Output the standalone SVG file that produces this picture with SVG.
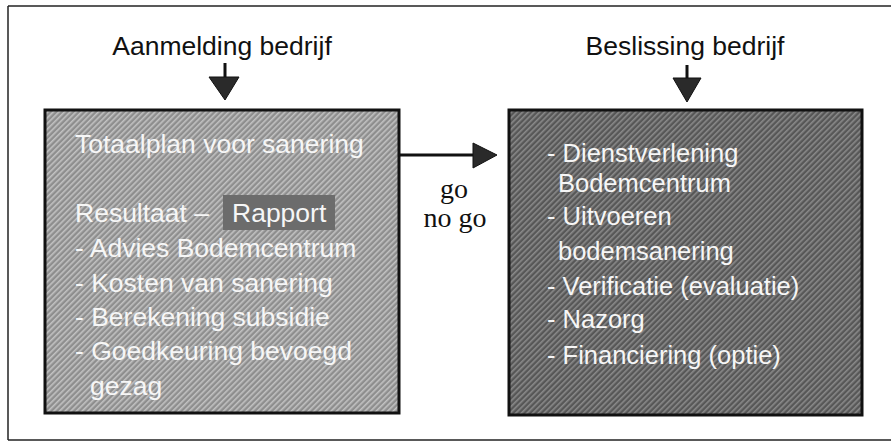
<svg xmlns="http://www.w3.org/2000/svg" width="891" height="442" viewBox="0 0 891 442">
<style>
.lbl{font-family:"Liberation Sans",Arial,sans-serif;font-size:26.5px;fill:#111}
.go{font-family:"Liberation Serif","Times New Roman",serif;font-size:28px;fill:#111}
.in{font-family:"Liberation Sans",Arial,sans-serif;font-size:25.5px;fill:#f6f6f6}
.inL{font-size:26.5px}
.box{stroke:#111;stroke-width:3}
.line{stroke:#111;stroke-width:3;fill:none}
.head{fill:#2a2a2a;stroke:#111;stroke-width:1}
</style>
<defs>
<pattern id="hatchL" width="4" height="4" patternUnits="userSpaceOnUse" patternTransform="rotate(-45)">
<rect width="4" height="4" fill="#8e8e8e"/>
<rect width="4" height="1.6" fill="#c2c2c2"/>
</pattern>
<pattern id="hatchR" width="4" height="4" patternUnits="userSpaceOnUse" patternTransform="rotate(-45)">
<rect width="4" height="4" fill="#575757"/>
<rect width="4" height="1.6" fill="#8a8a8a"/>
</pattern>
</defs>
<rect width="891" height="442" fill="#ffffff"/>
<g id="frame" stroke="#222" stroke-width="1.5" fill="none">
<line x1="8" y1="6" x2="891" y2="6"/>
<line x1="8" y1="6" x2="8" y2="440"/>
<line x1="8" y1="440" x2="891" y2="440"/>
</g>
<g id="label-aanmelding"><text class="lbl" x="222" y="55" text-anchor="middle">Aanmelding bedrijf</text></g>
<g id="label-beslissing"><text class="lbl" x="685" y="55" text-anchor="middle">Beslissing bedrijf</text></g>
<g id="node-totaalplan">
<rect class="box" x="45" y="110" width="354" height="303" fill="url(#hatchL)"/>
<rect x="223" y="195" width="112" height="35" fill="#6c6c6c"/>
<text class="in inL" x="75" y="153">Totaalplan voor sanering</text>
<text class="in inL" x="75" y="222">Resultaat –</text>
<text class="in inL" x="232" y="222">Rapport</text>
<text class="in inL" x="75" y="257">- Advies Bodemcentrum</text>
<text class="in inL" x="75" y="292">- Kosten van sanering</text>
<text class="in inL" x="75" y="326">- Berekening subsidie</text>
<text class="in inL" x="75" y="360">- Goedkeuring bevoegd</text>
<text class="in inL" x="90" y="395">gezag</text>
</g>
<g id="node-dienstverlening">
<rect class="box" x="509" y="110" width="353" height="305" fill="url(#hatchR)"/>
<text class="in" x="547" y="162">- Dienstverlening</text>
<text class="in" x="558" y="192">Bodemcentrum</text>
<text class="in" x="547" y="225">- Uitvoeren</text>
<text class="in" x="558" y="260">bodemsanering</text>
<text class="in" x="547" y="295">- Verificatie (evaluatie)</text>
<text class="in" x="547" y="328">- Nazorg</text>
<text class="in" x="547" y="364">- Financiering (optie)</text>
</g>
<g id="connectors">
<line class="line" x1="225" y1="63" x2="225" y2="78"/>
<polygon class="head" points="209,77 239,77 225,100"/>
<line class="line" x1="687" y1="65" x2="687" y2="79"/>
<polygon class="head" points="673,78 701,78 687,102"/>
<line class="line" x1="399" y1="155" x2="475" y2="155"/>
<polygon class="head" points="473,143 473,168 497,155"/>
<text class="go" x="454" y="198" text-anchor="middle">go</text>
<text class="go" x="455" y="227" text-anchor="middle">no go</text>
</g>
</svg>
